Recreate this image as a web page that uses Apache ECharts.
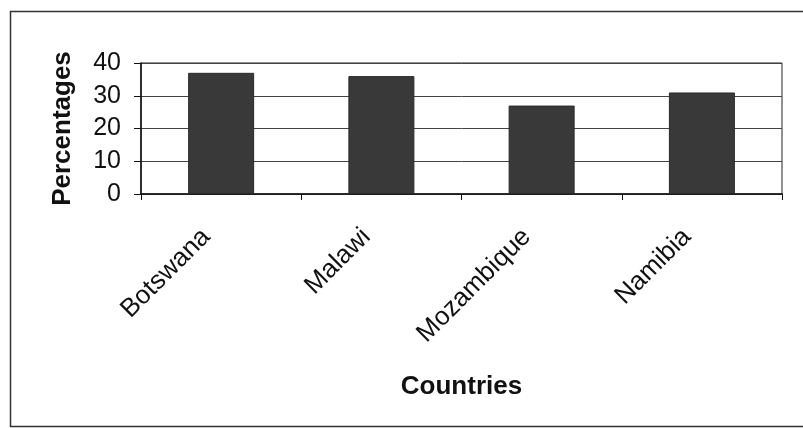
<!DOCTYPE html>
<html><head><meta charset="utf-8">
<script src="https://cdn.jsdelivr.net/npm/echarts@6/dist/echarts.min.js"></script>
<style>html,body{margin:0;padding:0;background:#fff}#c{width:803px;height:428px}</style>
</head><body><div id="c"></div>
<script>
const categories = ["Botswana", "Malawi", "Mozambique", "Namibia"];
const values = [37, 36, 27, 31];
const yTicks = [0, 10, 20, 30, 40];
const xTitle = "Countries";
const yTitle = "Percentages";

const font = "Liberation Sans, Arial, sans-serif";
const chart = echarts.init(document.getElementById('c'), null, {renderer: 'canvas'});
chart.setOption({
  animation: false,
  backgroundColor: '#fff',
  graphic: [{
    type: 'rect', left: 8, top: 9,
    shape: {x: 0, y: 0, width: 800, height: 415},
    style: {fill: 'none', stroke: '#333', lineWidth: 1.5}
  }],
  grid: {left: 141, top: 63, right: 21, bottom: 234, show: true, borderColor: '#222', borderWidth: 1},
  xAxis: {
    type: 'category', data: categories,
    name: xTitle, nameLocation: 'middle', nameGap: 180,
    nameTextStyle: {fontFamily: font, fontSize: 26, fontWeight: 'bold', color: '#111'},
    axisLine: {lineStyle: {color: '#111', width: 1.5}},
    axisTick: {show: true, length: 6, lineStyle: {color: '#111'}},
    axisLabel: {rotate: 45, margin: 24, padding: [0, 21, 0, 0], fontFamily: font, fontSize: 26, color: '#111', interval: 0}
  },
  yAxis: {
    type: 'value', min: yTicks[0], max: yTicks[yTicks.length - 1], interval: 10,
    name: yTitle, nameLocation: 'middle', nameGap: 65, nameRotate: 90,
    nameTextStyle: {fontFamily: font, fontSize: 26, fontWeight: 'bold', color: '#111'},
    axisLine: {show: true, lineStyle: {color: '#111', width: 1.5}},
    axisTick: {show: true, length: 7, lineStyle: {color: '#111'}},
    axisLabel: {margin: 20, fontFamily: font, fontSize: 25, color: '#111'},
    splitLine: {show: true, lineStyle: {color: '#444', width: 1}}
  },
  series: [{
    type: 'bar', data: values, barWidth: 66,
    itemStyle: {color: '#393939', borderColor: '#2a2a2a', borderWidth: 1}
  }]
});
</script></body></html>
